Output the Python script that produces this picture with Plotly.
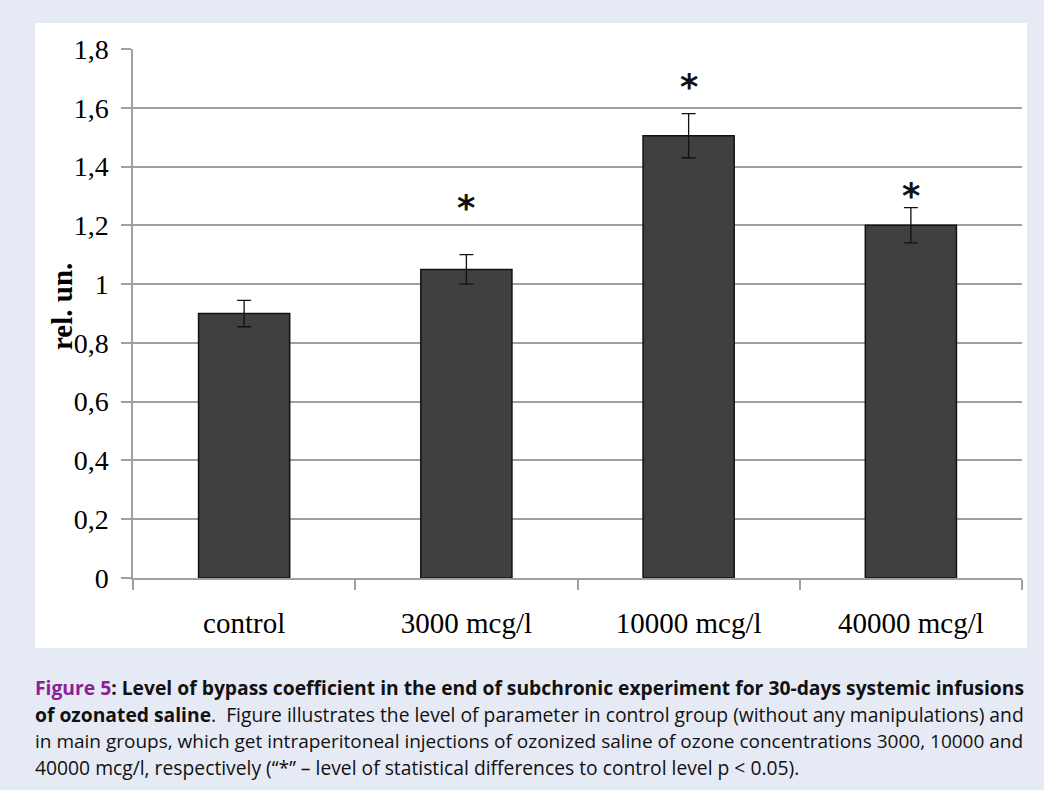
import plotly.graph_objects as go

categories = ["control", "3000 mcg/l", "10000 mcg/l", "40000 mcg/l"]
values = [0.90, 1.05, 1.505, 1.20]
errors = [0.045, 0.05, 0.075, 0.06]
significant = [False, True, True, True]
star_levels = [None, 1.28, 1.69, 1.32]
y_ticks = [0, 0.2, 0.4, 0.6, 0.8, 1.0, 1.2, 1.4, 1.6, 1.8]

W, H = 1044, 790
L, R, T, B = 133, 1022, 49, 578


def px_x(px):
    return (px - L) / (R - L)


def px_y(py):
    return (B - py) / (B - T)


fig = go.Figure()
fig.add_trace(go.Bar(
    x=categories, y=values,
    width=0.41,
    marker=dict(color="#404040", line=dict(color="#111111", width=1.5)),
    error_y=dict(type="data", array=errors, visible=True, color="#111111",
                 thickness=1.3, width=7),
    showlegend=False,
    hoverinfo="skip",
))

annotations = []
for cat, sig, lvl in zip(categories, significant, star_levels):
    if sig:
        annotations.append(dict(
            x=cat, y=lvl, xref="x", yref="y", text="<b>*</b>", showarrow=False,
            font=dict(family="DejaVu Sans", size=35, color="#111111"),
            yanchor="middle", yshift=-6,
        ))

annotations.append(dict(
    x=px_x(62), y=px_y(307), xref="paper", yref="paper",
    text="<b>rel. un.</b>", textangle=-90, showarrow=False,
    font=dict(family="Liberation Serif", size=29, color="#000000"),
    xanchor="center", yanchor="middle",
))

caption_lines = [
    "<b><span style='color:#8e1f96'>Figure 5</span>: Level of bypass coefficient in the end of subchronic experiment for 30-days systemic infusions</b>",
    "<b>of ozonated saline</b>.  Figure illustrates the level of parameter in control group (without any manipulations) and",
    "in main groups, which get intraperitoneal injections of ozonized saline of ozone concentrations 3000, 10000 and",
    "40000 mcg/l, respectively (\u201c*\u201d \u2013 level of statistical differences to control level p &lt; 0.05).",
]
line_y = [687, 714, 741, 768]
line_size = [19.3, 19.3, 19.0, 19.3]
for txt, ly, fs in zip(caption_lines, line_y, line_size):
    annotations.append(dict(
        x=px_x(33), y=px_y(ly), xref="paper", yref="paper",
        text=txt, showarrow=False,
        font=dict(family="Open Sans", size=fs, color="#111111"),
        xanchor="left", yanchor="middle", align="left",
    ))

fig.update_layout(
    width=W, height=H,
    margin=dict(l=L, r=W - R, t=T, b=H - B, pad=0),
    paper_bgcolor="#e6eaf5",
    plot_bgcolor="#ffffff",
    separators=", ",
    bargap=0.59,
    shapes=[dict(
        type="rect", xref="paper", yref="paper", layer="below",
        x0=px_x(35), x1=px_x(1027), y0=px_y(648), y1=px_y(23),
        fillcolor="#ffffff", line=dict(width=0),
    )],
    annotations=annotations,
    xaxis=dict(
        type="category", showgrid=False, tickson="boundaries",
        ticks="outside", ticklen=10, tickcolor="#a0a0a0", tickwidth=1.5,
        showline=True, linecolor="#a0a0a0", linewidth=1.5,
        tickfont=dict(family="Liberation Serif", size=29, color="#000000"),
        ticklabelstandoff=18,
    ),
    yaxis=dict(
        range=[0, 1.8], tickvals=y_ticks,
        showgrid=True, gridcolor="#a0a0a0", gridwidth=1.5,
        ticks="outside", ticklen=10, tickcolor="#a0a0a0", tickwidth=1.5,
        showline=True, linecolor="#a0a0a0", linewidth=1.5,
        zeroline=False,
        tickfont=dict(family="Liberation Serif", size=28, color="#000000"),
        ticklabelstandoff=7,
    ),
)

fig.write_html("out.html")
